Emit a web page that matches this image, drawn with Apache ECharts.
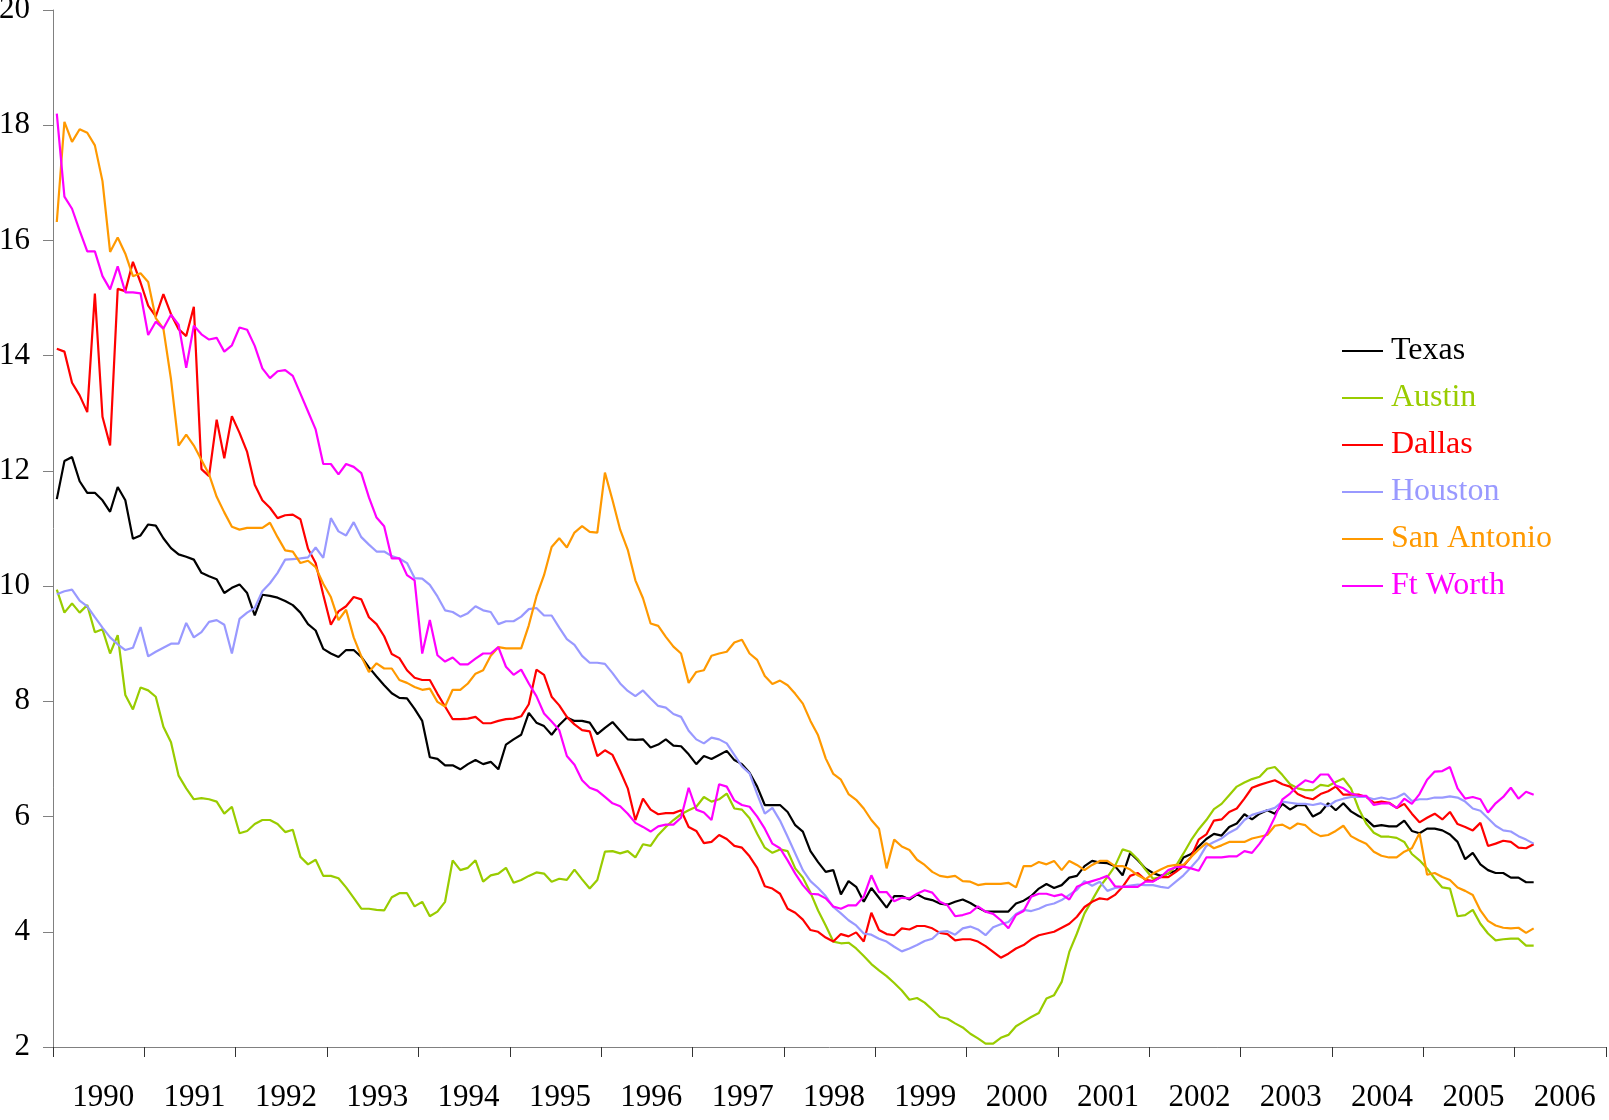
<!DOCTYPE html>
<html>
<head>
<meta charset="utf-8">
<title>Texas metro rates</title>
<script src="https://cdn.jsdelivr.net/npm/echarts@6/dist/echarts.min.js"></script>
<style>
  html, body { margin: 0; padding: 0; background: #fff; }
  #chart { width: 1609px; height: 1120px; }
</style>
</head>
<body>
<div id="chart"></div>
<script>
// year labels on the axis, one per 12 months
const years = ['1990', '1991', '1992', '1993', '1994', '1995', '1996', '1997', '1998',
  '1999', '2000', '2001', '2002', '2003', '2004', '2005', '2006']

// monthly values, Jan 1990 .. Mar 2006
const texas = [
  11.51, 12.17, 12.24, 11.82, 11.62, 11.62, 11.49, 11.29, 11.72, 11.49, 10.82, 10.88,
  11.07, 11.05, 10.83, 10.66, 10.55, 10.51, 10.46, 10.23, 10.17, 10.12, 9.88, 9.97,
  10.03, 9.88, 9.49, 9.85, 9.83, 9.80, 9.74, 9.67, 9.54, 9.34, 9.23, 8.91,
  8.83, 8.77, 8.89, 8.89, 8.77, 8.59, 8.43, 8.28, 8.14, 8.06, 8.05, 7.87,
  7.66, 7.03, 7.00, 6.89, 6.89, 6.82, 6.91, 6.98, 6.91, 6.95, 6.82, 7.25,
  7.34, 7.42, 7.80, 7.63, 7.57, 7.42, 7.59, 7.72, 7.66, 7.66, 7.63, 7.43,
  7.54, 7.64, 7.49, 7.34, 7.33, 7.34, 7.20, 7.25, 7.34, 7.23, 7.22, 7.08,
  6.91, 7.05, 7.00, 7.07, 7.14, 6.98, 6.91, 6.76, 6.52, 6.20, 6.20, 6.20,
  6.08, 5.85, 5.74, 5.40, 5.21, 5.04, 5.07, 4.65, 4.88, 4.78, 4.52, 4.76,
  4.59, 4.42, 4.62, 4.62, 4.56, 4.65, 4.58, 4.55, 4.49, 4.47, 4.52, 4.56,
  4.50, 4.42, 4.35, 4.35, 4.35, 4.35, 4.49, 4.54, 4.62, 4.75, 4.83, 4.76,
  4.81, 4.94, 4.97, 5.14, 5.23, 5.20, 5.19, 5.14, 4.98, 5.37, 5.24, 5.10,
  5.02, 4.97, 5.01, 5.06, 5.29, 5.35, 5.48, 5.61, 5.70, 5.67, 5.82, 5.88,
  6.04, 5.95, 6.05, 6.11, 6.05, 6.22, 6.12, 6.20, 6.20, 6.00, 6.07, 6.23,
  6.11, 6.23, 6.09, 6.01, 5.95, 5.83, 5.85, 5.83, 5.83, 5.93, 5.75, 5.71,
  5.79, 5.79, 5.76, 5.69, 5.56, 5.26, 5.37, 5.17, 5.07, 5.02, 5.02, 4.94,
  4.94, 4.86, 4.86
]
const austin = [
  9.94, 9.54, 9.70, 9.54, 9.67, 9.20, 9.25, 8.83, 9.15, 8.11, 7.86, 8.24,
  8.19, 8.08, 7.56, 7.29, 6.71, 6.49, 6.30, 6.32, 6.30, 6.26, 6.05, 6.17,
  5.71, 5.75, 5.87, 5.94, 5.94, 5.87, 5.73, 5.77, 5.30, 5.17, 5.25, 4.97,
  4.97, 4.93, 4.77, 4.59, 4.40, 4.40, 4.38, 4.37, 4.60, 4.67, 4.67, 4.44,
  4.52, 4.27, 4.35, 4.52, 5.24, 5.07, 5.11, 5.24, 4.87, 4.98, 5.01, 5.11,
  4.85, 4.90, 4.97, 5.03, 5.01, 4.87, 4.92, 4.90, 5.08, 4.91, 4.75, 4.90,
  5.39, 5.40, 5.36, 5.40, 5.29, 5.52, 5.49, 5.68, 5.82, 5.94, 6.04, 6.11,
  6.17, 6.34, 6.26, 6.30, 6.40, 6.14, 6.12, 5.97, 5.70, 5.46, 5.37, 5.43,
  5.40, 5.10, 4.94, 4.68, 4.37, 4.11, 3.83, 3.80, 3.81, 3.71, 3.58, 3.44,
  3.33, 3.23, 3.11, 2.98, 2.82, 2.85, 2.77, 2.65, 2.52, 2.49, 2.41, 2.34,
  2.23, 2.15, 2.06, 2.06, 2.16, 2.21, 2.36, 2.44, 2.52, 2.59, 2.84, 2.90,
  3.13, 3.65, 3.97, 4.32, 4.55, 4.78, 4.95, 5.14, 5.43, 5.39, 5.26, 5.08,
  4.92, 4.95, 5.01, 5.14, 5.36, 5.59, 5.78, 5.94, 6.13, 6.22, 6.37, 6.52,
  6.59, 6.65, 6.69, 6.83, 6.86, 6.72, 6.56, 6.49, 6.46, 6.46, 6.55, 6.53,
  6.60, 6.66, 6.49, 6.14, 5.88, 5.72, 5.65, 5.65, 5.63, 5.56, 5.35, 5.24,
  5.10, 4.92, 4.77, 4.75, 4.27, 4.29, 4.38, 4.14, 3.97, 3.85, 3.87, 3.88,
  3.88, 3.76, 3.76
]
const dallas = [
  14.12, 14.07, 13.53, 13.31, 13.02, 15.08, 12.94, 12.44, 15.16, 15.12, 15.63, 15.27,
  14.87, 14.68, 15.07, 14.72, 14.46, 14.34, 14.85, 12.03, 11.91, 12.89, 12.22, 12.95,
  12.66, 12.33, 11.76, 11.49, 11.36, 11.18, 11.23, 11.24, 11.16, 10.65, 10.40, 9.85,
  9.33, 9.56, 9.65, 9.81, 9.77, 9.46, 9.34, 9.13, 8.82, 8.75, 8.54, 8.41,
  8.37, 8.37, 8.13, 7.91, 7.69, 7.69, 7.70, 7.73, 7.62, 7.62, 7.66, 7.69,
  7.70, 7.74, 7.95, 8.55, 8.46, 8.08, 7.93, 7.73, 7.60, 7.50, 7.48, 7.05,
  7.15, 7.07, 6.79, 6.49, 5.94, 6.31, 6.12, 6.04, 6.06, 6.06, 6.11, 5.82,
  5.75, 5.54, 5.56, 5.68, 5.61, 5.49, 5.46, 5.31, 5.11, 4.79, 4.75, 4.66,
  4.40, 4.33, 4.21, 4.03, 4.00, 3.90, 3.83, 3.96, 3.92, 3.99, 3.83, 4.33,
  4.03, 3.96, 3.94, 4.06, 4.04, 4.10, 4.10, 4.06, 3.98, 3.96, 3.85, 3.87,
  3.87, 3.83, 3.75, 3.65, 3.55, 3.62, 3.71, 3.77, 3.87, 3.94, 3.97, 4.00,
  4.07, 4.14, 4.26, 4.43, 4.52, 4.58, 4.56, 4.64, 4.78, 4.97, 5.02, 4.90,
  4.88, 4.95, 4.95, 5.04, 5.14, 5.30, 5.60, 5.69, 5.93, 5.95, 6.08, 6.14,
  6.31, 6.50, 6.55, 6.59, 6.63, 6.56, 6.52, 6.39, 6.33, 6.30, 6.39, 6.44,
  6.52, 6.38, 6.38, 6.38, 6.34, 6.24, 6.26, 6.24, 6.15, 6.22, 6.05, 5.90,
  5.98, 6.05, 5.95, 6.08, 5.87, 5.82, 5.76, 5.89, 5.49, 5.53, 5.58, 5.56,
  5.46, 5.45, 5.52
]
const houston = [
  9.86, 9.91, 9.94, 9.75, 9.65, 9.46, 9.28, 9.11, 8.99, 8.89, 8.93, 9.29,
  8.78, 8.86, 8.93, 9.00, 9.00, 9.36, 9.11, 9.20, 9.38, 9.41, 9.33, 8.83,
  9.43, 9.54, 9.62, 9.91, 10.05, 10.23, 10.46, 10.47, 10.48, 10.50, 10.67, 10.49,
  11.18, 10.95, 10.88, 11.11, 10.85, 10.72, 10.60, 10.60, 10.52, 10.48, 10.40, 10.14,
  10.13, 10.02, 9.82, 9.58, 9.55, 9.47, 9.53, 9.65, 9.58, 9.55, 9.34, 9.39,
  9.39, 9.47, 9.60, 9.62, 9.49, 9.49, 9.28, 9.08, 8.98, 8.79, 8.67, 8.67,
  8.65, 8.49, 8.31, 8.18, 8.09, 8.19, 8.05, 7.92, 7.89, 7.78, 7.73, 7.49,
  7.34, 7.27, 7.37, 7.34, 7.27, 7.07, 6.87, 6.75, 6.39, 6.05, 6.15, 5.93,
  5.65, 5.36, 5.07, 4.88, 4.76, 4.62, 4.43, 4.32, 4.20, 4.11, 3.97, 3.95,
  3.88, 3.83, 3.74, 3.66, 3.71, 3.77, 3.84, 3.88, 4.00, 4.01, 3.95, 4.06,
  4.09, 4.04, 3.94, 4.08, 4.13, 4.17, 4.31, 4.38, 4.36, 4.40, 4.46, 4.49,
  4.55, 4.64, 4.73, 4.88, 4.80, 4.87, 4.71, 4.76, 4.78, 4.80, 4.82, 4.81,
  4.81, 4.78, 4.76, 4.87, 4.98, 5.12, 5.27, 5.49, 5.56, 5.62, 5.72, 5.79,
  5.94, 6.03, 6.07, 6.11, 6.15, 6.26, 6.24, 6.22, 6.22, 6.20, 6.23, 6.18,
  6.27, 6.31, 6.34, 6.34, 6.34, 6.30, 6.33, 6.30, 6.33, 6.40, 6.27, 6.30,
  6.30, 6.33, 6.33, 6.35, 6.33, 6.26, 6.14, 6.10, 5.97, 5.84, 5.76, 5.74,
  5.66, 5.60, 5.53
]
const sanAntonio = [
  16.32, 18.06, 17.71, 17.93, 17.87, 17.65, 17.03, 15.80, 16.05, 15.77, 15.38, 15.43,
  15.28, 14.65, 14.47, 13.59, 12.44, 12.63, 12.44, 12.19, 11.94, 11.55, 11.28, 11.03,
  10.98, 11.01, 11.01, 11.01, 11.10, 10.85, 10.62, 10.60, 10.40, 10.44, 10.33, 10.04,
  9.81, 9.41, 9.59, 9.11, 8.78, 8.51, 8.66, 8.57, 8.57, 8.37, 8.32, 8.25,
  8.20, 8.22, 7.99, 7.91, 8.20, 8.20, 8.31, 8.48, 8.54, 8.79, 8.94, 8.92,
  8.92, 8.92, 9.32, 9.82, 10.19, 10.68, 10.83, 10.67, 10.93, 11.04, 10.94, 10.93,
  11.97, 11.49, 10.98, 10.63, 10.10, 9.79, 9.35, 9.31, 9.12, 8.95, 8.83, 8.32,
  8.51, 8.54, 8.79, 8.83, 8.86, 9.02, 9.07, 8.83, 8.72, 8.44, 8.30, 8.36,
  8.28, 8.13, 7.96, 7.66, 7.41, 7.01, 6.74, 6.64, 6.39, 6.29, 6.14, 5.94,
  5.79, 5.10, 5.60, 5.48, 5.42, 5.25, 5.16, 5.04, 4.97, 4.95, 4.97, 4.88,
  4.87, 4.81, 4.83, 4.83, 4.83, 4.85, 4.77, 5.14, 5.14, 5.21, 5.17, 5.23,
  5.07, 5.23, 5.16, 5.07, 5.16, 5.23, 5.23, 5.14, 5.14, 5.08, 4.98, 4.91,
  5.01, 5.08, 5.14, 5.16, 5.16, 5.30, 5.43, 5.54, 5.45, 5.50, 5.56, 5.56,
  5.56, 5.62, 5.65, 5.68, 5.84, 5.86, 5.79, 5.88, 5.85, 5.73, 5.66, 5.68,
  5.75, 5.84, 5.66, 5.59, 5.53, 5.39, 5.32, 5.29, 5.29, 5.39, 5.45, 5.71,
  4.99, 5.02, 4.95, 4.90, 4.77, 4.71, 4.64, 4.37, 4.19, 4.11, 4.07, 4.06,
  4.07, 3.98, 4.06
]
const ftWorth = [
  18.20, 16.76, 16.55, 16.17, 15.81, 15.81, 15.38, 15.15, 15.55, 15.10, 15.10, 15.08,
  14.36, 14.59, 14.47, 14.71, 14.54, 13.79, 14.52, 14.37, 14.28, 14.31, 14.07, 14.18,
  14.49, 14.45, 14.17, 13.78, 13.61, 13.73, 13.75, 13.65, 13.34, 13.03, 12.72, 12.12,
  12.12, 11.94, 12.12, 12.07, 11.96, 11.54, 11.19, 11.04, 10.48, 10.48, 10.19, 10.10,
  8.83, 9.41, 8.80, 8.69, 8.76, 8.64, 8.64, 8.74, 8.83, 8.83, 8.94, 8.60,
  8.46, 8.55, 8.31, 8.09, 7.79, 7.65, 7.50, 7.05, 6.90, 6.63, 6.50, 6.45,
  6.34, 6.23, 6.18, 6.05, 5.89, 5.82, 5.74, 5.83, 5.86, 5.86, 5.98, 6.50,
  6.12, 6.07, 5.94, 6.56, 6.52, 6.28, 6.20, 6.17, 6.00, 5.79, 5.53, 5.45,
  5.24, 5.01, 4.81, 4.66, 4.65, 4.58, 4.44, 4.40, 4.46, 4.46, 4.61, 4.98,
  4.69, 4.69, 4.53, 4.59, 4.58, 4.66, 4.72, 4.68, 4.52, 4.46, 4.27, 4.29,
  4.33, 4.44, 4.35, 4.31, 4.20, 4.06, 4.29, 4.36, 4.61, 4.66, 4.66, 4.62,
  4.65, 4.56, 4.78, 4.84, 4.88, 4.92, 4.97, 4.79, 4.78, 4.78, 4.78, 4.87,
  4.87, 4.95, 5.07, 5.12, 5.13, 5.10, 5.06, 5.29, 5.29, 5.29, 5.31, 5.31,
  5.40, 5.37, 5.53, 5.72, 5.99, 6.30, 6.40, 6.53, 6.63, 6.59, 6.73, 6.73,
  6.54, 6.49, 6.40, 6.36, 6.36, 6.20, 6.23, 6.23, 6.15, 6.31, 6.22, 6.39,
  6.64, 6.78, 6.79, 6.86, 6.49, 6.31, 6.34, 6.30, 6.07, 6.23, 6.34, 6.50,
  6.31, 6.43, 6.38
]

const seriesList = [
  { name: 'Texas', color: '#000000', data: texas },
  { name: 'Austin', color: '#99CC00', data: austin },
  { name: 'Dallas', color: '#FF0000', data: dallas },
  { name: 'Houston', color: '#9999FF', data: houston },
  { name: 'San Antonio', color: '#FF9900', data: sanAntonio },
  { name: 'Ft Worth', color: '#FF00FF', data: ftWorth }
]

// one hidden category per month, 12 per year label
const months = []
years.forEach(y => {
  for (let m = 1; m <= 12; m++) months.push(y + '-' + m)
})

const font = "'Liberation Serif', 'Times New Roman', serif"

const chart = echarts.init(document.getElementById('chart'))
chart.setOption({
  animation: false,
  backgroundColor: '#ffffff',
  grid: {
    left: 53,
    right: 3,
    top: 10,
    bottom: 73,
    containLabel: false,
    outerBoundsMode: 'none'
  },
  legend: {
    orient: 'vertical',
    left: 1337,
    top: 330,
    icon: 'rect',
    itemWidth: 41,
    itemHeight: 2,
    itemGap: 15,
    textStyle: {
      fontFamily: font,
      fontSize: 32,
      lineHeight: 32,
      padding: [0, 0, 0, 3]
    },
    data: seriesList.map(s => ({ name: s.name, textStyle: { color: s.color } }))
  },
  xAxis: [
    {
      type: 'category',
      data: years,
      boundaryGap: true,
      axisLine: { lineStyle: { color: '#808080', width: 1 } },
      axisTick: { show: true, length: 10, lineStyle: { color: '#333' } },
      axisLabel: {
        color: '#000',
        fontFamily: font,
        fontSize: 31,
        margin: 35,
        padding: [0, 0, 0, 9]
      },
      splitLine: { show: false }
    },
    {
      type: 'category',
      data: months,
      boundaryGap: true,
      show: false
    }
  ],
  yAxis: {
    type: 'value',
    min: 2,
    max: 20,
    interval: 2,
    axisLine: { show: true, lineStyle: { color: '#808080', width: 1 } },
    axisTick: { show: true, length: 10, lineStyle: { color: '#808080' } },
    axisLabel: {
      color: '#000',
      fontFamily: font,
      fontSize: 31,
      margin: 23
    },
    splitLine: { show: false }
  },
  series: seriesList.map(s => ({
    name: s.name,
    type: 'line',
    xAxisIndex: 1,
    data: s.data,
    showSymbol: false,
    symbol: 'none',
    color: s.color,
    lineStyle: { color: s.color, width: 2.2 }
  }))
})
</script>
</body>
</html>
